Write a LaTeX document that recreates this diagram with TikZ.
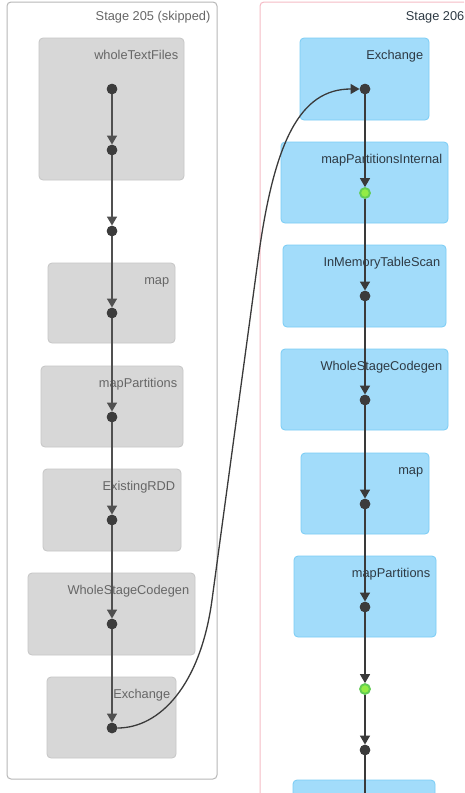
\documentclass[tikz,border=0pt]{standalone}
\usepackage{fontspec}
\setmainfont{Liberation Sans}
\usetikzlibrary{fit,arrows.meta}
\definecolor{gfill}{HTML}{D7D7D7}
\definecolor{gline}{HTML}{C6C6C6}
\definecolor{bfill}{HTML}{A2DCFA}
\definecolor{bline}{HTML}{7ACCF5}
\definecolor{skipline}{HTML}{B8B8B8}
\definecolor{pinkline}{HTML}{F5BCC6}
\definecolor{dotc}{HTML}{3C3C3C}
\definecolor{greenfill}{HTML}{93EC44}
\definecolor{greenline}{HTML}{62CC55}
\definecolor{edgec}{HTML}{3A3A3A}
\definecolor{skipedge}{HTML}{505050}
\definecolor{skiptext}{HTML}{666666}
\definecolor{normtext}{HTML}{2E3A44}
\tikzset{
  stagebox/.style={draw=skipline, fill=white, rounded corners=4pt, line width=1pt, inner sep=0pt},
  stagepink/.style={draw=pinkline, fill=white, rounded corners=4pt, line width=1pt, inner sep=0pt},
  graybox/.style={draw=gline, fill=gfill, rounded corners=4pt, line width=0.8pt, inner sep=0pt},
  bluebox/.style={draw=bline, fill=bfill, rounded corners=4pt, line width=0.8pt, inner sep=0pt},
  lblskip/.style={text=skiptext, font=\fontsize{12.8}{15}\selectfont, inner sep=0pt, anchor=base east},
  lblnorm/.style={text=normtext, font=\fontsize{12.8}{15}\selectfont, inner sep=0pt, anchor=base east},
  dotn/.style={circle, fill=dotc, inner sep=0pt, minimum size=10.5pt},
  greendot/.style={circle, fill=greenfill, draw=greenline, line width=1.3pt, inner sep=0pt, minimum size=10.5pt},
  edge/.style={draw=edgec, line width=1.5pt, -{Triangle[length=9pt,width=10pt]}},
  skipedgest/.style={draw=skipedge, line width=1.5pt, -{Triangle[length=9pt,width=10pt]}},
  plainedge/.style={draw=edgec, line width=1.5pt},
  shuffle/.style={draw=edgec, line width=1.3pt, -{Triangle[length=9pt,width=10pt]}},
}
\begin{document}
\begin{tikzpicture}[x=1pt,y=-1pt]
\useasboundingbox (0,0) rectangle (464,793);
\clip (0,0) rectangle (464,793);
\fill[white] (0,0) rectangle (464,793);
% stages
\node[stagebox, fit={(7,2) (217,779)}] (s205) {};
\node[lblskip] (t205) at ([xshift=-7pt,yshift=-19pt]s205.north east) {Stage 205 (skipped)};
\node[stagepink, fit={(260,2) (471,900)}] (s206) {};
\node[lblnorm] (t206) at ([xshift=-7pt,yshift=-19pt]s206.north east) {Stage 206};
% left rdd boxes
\node[graybox, fit={(39,38) (184,180)}] (wtf) {};
\node[lblskip] at ([xshift=-6pt,yshift=-22pt]wtf.north east) {wholeTextFiles};
\node[graybox, fit={(48,263) (175,343)}] (lmap) {};
\node[lblskip] at ([xshift=-6pt,yshift=-22pt]lmap.north east) {map};
\node[graybox, fit={(41,366) (183,447)}] (lmp) {};
\node[lblskip] at ([xshift=-6pt,yshift=-22pt]lmp.north east) {mapPartitions};
\node[graybox, fit={(43,469) (181,551)}] (lrdd) {};
\node[lblskip] at ([xshift=-6pt,yshift=-22pt]lrdd.north east) {ExistingRDD};
\node[graybox, fit={(28,573) (195,655)}] (lwsc) {};
\node[lblskip] at ([xshift=-6pt,yshift=-22pt]lwsc.north east) {WholeStageCodegen};
\node[graybox, fit={(47,677) (176,758)}] (lex) {};
\node[lblskip] at ([xshift=-6pt,yshift=-22pt]lex.north east) {Exchange};
% right rdd boxes
\node[bluebox, fit={(300,38) (429,120)}] (rex) {};
\node[lblnorm] at ([xshift=-6pt,yshift=-22pt]rex.north east) {Exchange};
\node[bluebox, fit={(281,142) (448,223)}] (rmpi) {};
\node[lblnorm] at ([xshift=-6pt,yshift=-22pt]rmpi.north east) {mapPartitionsInternal};
\node[bluebox, fit={(283,245) (446,327)}] (rimt) {};
\node[lblnorm] at ([xshift=-6pt,yshift=-22pt]rimt.north east) {InMemoryTableScan};
\node[bluebox, fit={(281,349) (448,430)}] (rwsc) {};
\node[lblnorm] at ([xshift=-6pt,yshift=-22pt]rwsc.north east) {WholeStageCodegen};
\node[bluebox, fit={(301,453) (429,534)}] (rmap) {};
\node[lblnorm] at ([xshift=-6pt,yshift=-22pt]rmap.north east) {map};
\node[bluebox, fit={(294,556) (436,637)}] (rmp) {};
\node[lblnorm] at ([xshift=-6pt,yshift=-22pt]rmp.north east) {mapPartitions};
\node[bluebox, fit={(293,780) (435,862)}] (rnext) {};
% left dots
\node[dotn] (l1) at (112,89) {};
\node[dotn] (l2) at (112,150) {};
\node[dotn] (l3) at (112,231) {};
\node[dotn] (l4) at (112,313) {};
\node[dotn] (l5) at (112,417) {};
\node[dotn] (l6) at (112,520) {};
\node[dotn] (l7) at (112,624) {};
\node[dotn] (l8) at (112,728) {};
% right dots
\node[dotn] (r1) at (365,89) {};
\node[greendot] (r2) at (365,193) {};
\node[dotn] (r3) at (365,296) {};
\node[dotn] (r4) at (365,400) {};
\node[dotn] (r5) at (365,504) {};
\node[dotn] (r6) at (365,607) {};
\node[greendot] (r7) at (365,689) {};
\node[dotn] (r8) at (365,750) {};
\coordinate (rend) at (365,810);
% left edges
\draw[skipedgest] (l1) -- (l2);
\draw[skipedgest] (l2) -- (l3);
\draw[skipedgest] (l3) -- (l4);
\draw[skipedgest] (l4) -- (l5);
\draw[skipedgest] (l5) -- (l6);
\draw[skipedgest] (l6) -- (l7);
\draw[skipedgest] (l7) -- (l8);
% right edges
\draw[edge] (r1) -- (r2);
\draw[edge] (r2) -- (r3);
\draw[edge] (r3) -- (r4);
\draw[edge] (r4) -- (r5);
\draw[edge] (r5) -- (r6);
\draw[edge] (r6) -- (r7);
\draw[edge] (r7) -- (r8);
\draw[plainedge] (r8) -- (rend);
% shuffle edge
\draw[shuffle] (l8.east) .. controls (160,728) and (200.5,685) .. (212,600)
  -- (258,260) .. controls (274,141) and (300,89) .. (r1.west);
% redraw dots on top
\foreach \n in {l1,l2,l3,l4,l5,l6,l7,l8,r1,r3,r4,r5,r6,r8}{\fill[dotc] (\n) circle (5.25pt);}
\foreach \n in {r2,r7}{\filldraw[fill=greenfill,draw=greenline,line width=1.3pt] (\n) circle (4.6pt);}
\end{tikzpicture}
\end{document}
